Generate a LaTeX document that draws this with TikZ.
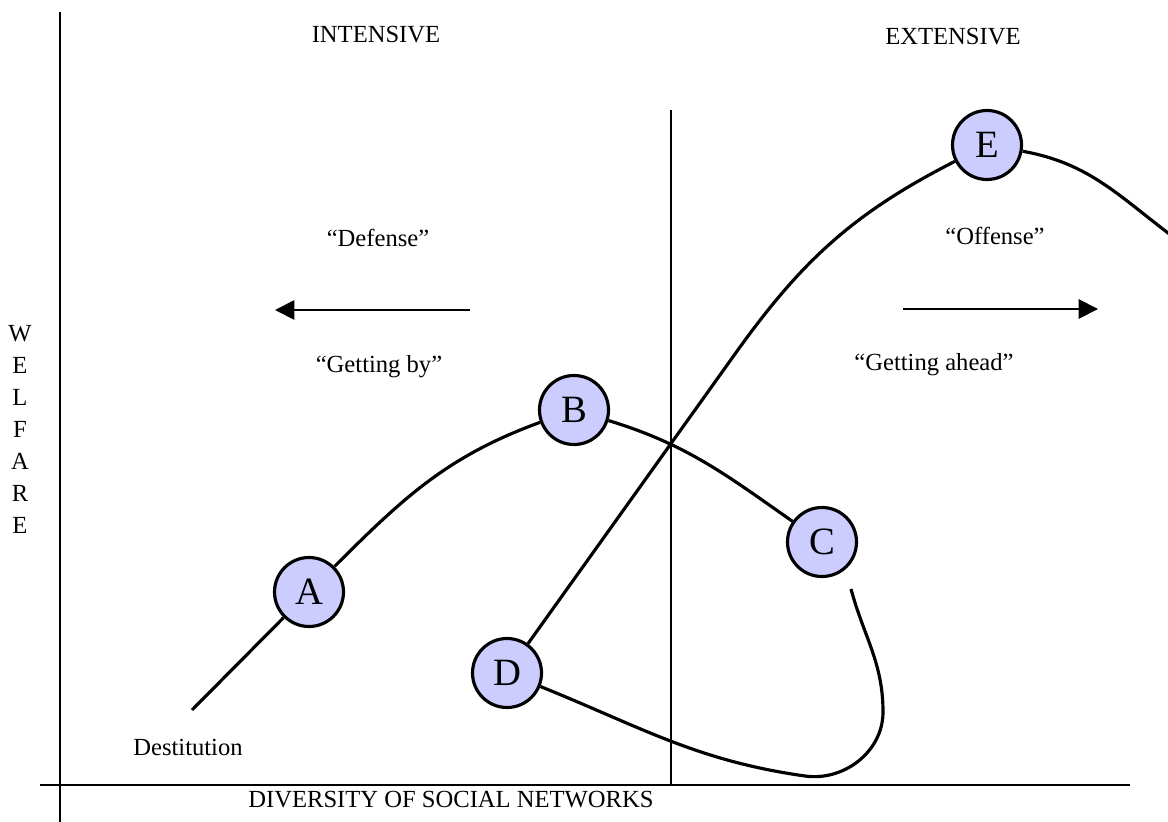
\documentclass[tikz,border=0pt]{standalone}
\usepackage{fontspec}
\setmainfont{Liberation Serif}
\usetikzlibrary{arrows.meta}
\definecolor{stagefill}{RGB}{204,204,255}

\begin{document}
\begin{tikzpicture}[
    stage/.style={circle, draw, line width=1.8pt, fill=stagefill, minimum size=1.38cm, inner sep=0pt, font=\fontsize{22}{26}\selectfont},
    lbl/.style={font=\fontsize{14}{18.2}\selectfont, inner sep=0pt},
    curve/.style={line width=1.8pt},
    axis/.style={line width=1.3pt},
    move/.style={line width=1.1pt, -{Triangle[length=11pt,width=11pt]}}
  ]
  \useasboundingbox (-1.2,-0.72) rectangle (22.16,15.7);

  % Axes
  \draw[axis] (0,-0.8) -- (0,15.46);
  \draw[axis] (-0.4,0) -- (21.4,0);
  \draw[axis] (12.22,0) -- (12.22,13.5);

  % Labels
  \node[lbl] (intensive) at (6.32,15.0) {INTENSIVE};
  \node[lbl] (extensive) at (17.86,14.96) {EXTENSIVE};
  \node[lbl] (defense) at (6.36,10.94) {``Defense''};
  \node[lbl] (gettingby) at (6.38,8.36) {``Getting by''};
  \node[lbl] (offense) at (18.7,10.98) {``Offense''};
  \node[lbl] (gettingahead) at (17.48,8.4) {``Getting ahead''};
  \node[lbl] (destitution) at (2.56,0.76) {Destitution};
  \node[lbl] (diversity) at (7.82,-0.3) {DIVERSITY OF SOCIAL NETWORKS};
  \node[lbl, align=center] (welfare) at (-0.8,7.12) {W\\E\\L\\F\\A\\R\\E};

  % Stages
  \node[stage] (A) at (4.98,3.86) {A};
  \node[stage] (B) at (10.28,7.5) {B};
  \node[stage] (C) at (15.24,4.86) {C};
  \node[stage] (D) at (8.94,2.24) {D};
  \node[stage] (E) at (18.54,12.8) {E};

  \coordinate (dest) at (2.64,1.5);
  \coordinate (bend) at (13.5,8.62);
  \coordinate (eend) at (22.24,10.98);
  \coordinate (loopstart) at (15.82,3.92);
  \coordinate (loopright) at (16.46,1.46);
  \coordinate (loopbot) at (14.9,0.18);
  \coordinate (leftfrom) at (8.2,9.5);
  \coordinate (leftto) at (4.3,9.5);
  \coordinate (rightfrom) at (16.86,9.52);
  \coordinate (rightto) at (20.76,9.52);

  % Edges
  \draw[curve] (dest) -- (A);
  \draw[curve] (A) to[out=45, in=200] (B);
  \draw[curve] (B) to[out=-17, in=145] (C);
  \draw[curve] (D) -- (bend) to[out=54.5, in=207] (E);
  \draw[curve] (E) to[out=-10, in=143] (eend);
  \draw[curve] (D) to[out=-22, in=172] (loopbot) to[out=-8, in=-90] (loopright) to[out=90, in=-75] (loopstart);

  % Arrows
  \draw[move] (leftfrom) -- (leftto);
  \draw[move] (rightfrom) -- (rightto);
\end{tikzpicture}
\end{document}
